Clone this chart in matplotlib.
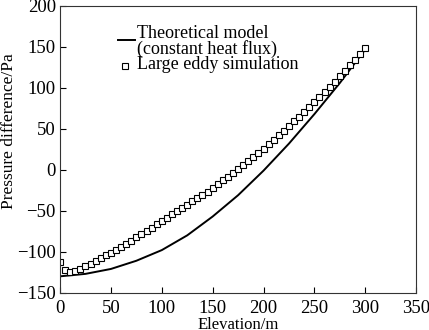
import matplotlib
matplotlib.use("Agg")
import matplotlib.pyplot as plt

# theoretical model (constant heat flux)
theory_x = [0, 25, 50, 75, 100, 125, 150, 175, 200, 225, 250, 275, 300]
theory_y = [-130, -127, -121, -111, -98, -80, -57, -31, -1, 32, 68, 106, 147]

# large eddy simulation, every 5 m
les_x = list(range(0, 305, 5))
les_y = [
    -112, -122, -125, -124, -121, -118, -115, -111.5, -108, -104.5,
    -101, -97.5, -94, -90, -86.5, -82.5, -78.5, -74.5, -70.5, -66.5,
    -62.5, -58.5, -54.5, -50.5, -46.5, -42.5, -38.5, -34.5, -30.5, -26.5,
    -22, -17.5, -13, -8.5, -4, 1, 5.5, 10.5, 15.5, 20.5,
    26, 31, 36.5, 42, 47.5, 53, 59, 64.5, 70.5, 76.5,
    82.5, 88.5, 95, 101, 107.5, 114, 120.5, 127.5, 134, 141.5,
    149,
]

x_ticks = [0, 50, 100, 150, 200, 250, 300, 350]
y_ticks = [-150, -100, -50, 0, 50, 100, 150, 200]

plt.rcParams["font.family"] = ["Liberation Serif", "DejaVu Serif"]

fig = plt.figure(figsize=(4.29, 3.30), dpi=100)
ax = fig.add_axes([0.14, 0.113, 0.83, 0.869])

ax.plot(theory_x, theory_y, color="black", lw=1.4)
ax.plot(les_x, les_y, ls="none", marker="s", ms=4.6, mfc="white",
        mec="black", mew=0.8)

ax.set_xlim(0, 350)
ax.set_ylim(-150, 200)
ax.set_xticks(x_ticks)
ax.set_yticks(y_ticks)
ax.set_yticklabels([str(v).replace("-", "\u2212") for v in y_ticks])
ax.tick_params(direction="in", length=4, width=0.8, labelsize=13.5)
ax.tick_params(axis="x", pad=5)
ax.tick_params(axis="y", pad=3)
for s in ax.spines.values():
    s.set_linewidth(0.8)
    s.set_color("0.2")

ax.set_xlabel("Elevation/m", fontsize=12)
ax.xaxis.set_label_coords(0.5, -0.083)
ax.set_ylabel("Pressure difference/Pa", fontsize=12.5)
ax.yaxis.set_label_coords(-0.12, 0.564)

# legend drawn by hand so the line sits on the first label row
ax.plot([0.163, 0.211], [0.8805, 0.8805], transform=ax.transAxes,
        color="black", lw=1.4, clip_on=False)
ax.text(0.216, 0.888, "Theoretical model", transform=ax.transAxes,
        va="baseline", ha="left", fontsize=13)
ax.text(0.216, 0.833, "(constant heat flux)", transform=ax.transAxes,
        va="baseline", ha="left", fontsize=13)
ax.plot([0.183], [0.79], transform=ax.transAxes, ls="none", marker="s",
        ms=4.6, mfc="white", mec="black", mew=0.8, clip_on=False)
ax.text(0.216, 0.78, "Large eddy simulation", transform=ax.transAxes,
        va="baseline", ha="left", fontsize=13)

fig.savefig("out.png", dpi=100)
